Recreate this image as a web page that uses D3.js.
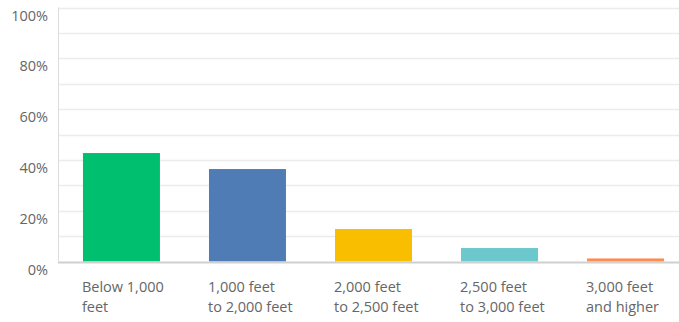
<!DOCTYPE html>
<html>
<head>
<meta charset="utf-8">
<script src="https://cdn.jsdelivr.net/npm/d3@7"></script>
<style>
  html, body { margin: 0; padding: 0; background: #fff; }
  svg { display: block; }
  text { font-family: "Open Sans", "Noto Sans", sans-serif; fill: #666666; }
</style>
</head>
<body>
<svg id="chart" width="679" height="322"></svg>
<script>
// Answer categories (each label split over two lines)
const categories = [
  ["Below 1,000", "feet"],
  ["1,000 feet", "to 2,000 feet"],
  ["2,000 feet", "to 2,500 feet"],
  ["2,500 feet", "to 3,000 feet"],
  ["3,000 feet", "and higher"]
];
// Share of responses (%)
const values = [42.7, 36.4, 12.8, 5.3, 1.2];
const colors = ["#00bf6f", "#507cb6", "#f9be00", "#6bc8cd", "#ff8b4f"];
const yTicks = [0, 20, 40, 60, 80, 100];
const gridTicks = [0, 10, 20, 30, 40, 50, 60, 70, 80, 90, 100];

const svg = d3.select("#chart");
const plotLeft = 58, plotTop = 7.5, plotBottom = 261.5;

const x = d3.scaleBand()
  .domain(d3.range(categories.length))
  .range([plotLeft, 689])
  .paddingInner(0.389)
  .paddingOuter(0.198);

const y = d3.scaleLinear().domain([0, 100]).range([plotBottom, plotTop]);

// Horizontal gridlines
svg.append("g")
  .selectAll("line")
  .data(gridTicks.filter(d => d > 0))
  .join("line")
  .attr("x1", plotLeft).attr("x2", 679)
  .attr("y1", d => Math.round(y(d)) + 0.5)
  .attr("y2", d => Math.round(y(d)) + 0.5)
  .attr("stroke", "#ececec")
  .attr("stroke-width", 1.5);

// Vertical axis line
svg.append("line")
  .attr("x1", plotLeft + 0.5).attr("x2", plotLeft + 0.5)
  .attr("y1", plotTop).attr("y2", plotBottom)
  .attr("stroke", "#dcdcdc")
  .attr("stroke-width", 1);

// Bars
svg.append("g")
  .selectAll("rect")
  .data(values)
  .join("rect")
  .attr("x", (d, i) => x(i))
  .attr("width", x.bandwidth())
  .attr("y", d => y(d))
  .attr("height", d => plotBottom - y(d))
  .attr("fill", (d, i) => colors[i]);

// Baseline
svg.append("line")
  .attr("x1", plotLeft).attr("x2", 679)
  .attr("y1", plotBottom + 1).attr("y2", plotBottom + 1)
  .attr("stroke", "#d0d0d0")
  .attr("stroke-width", 2);

// Y tick labels
svg.append("g")
  .selectAll("text")
  .data(yTicks)
  .join("text")
  .attr("x", 48)
  .attr("y", d => y(d) + 8)
  .attr("dy", "0.35em")
  .attr("text-anchor", "end")
  .attr("font-size", 14.5)
  .text(d => d + "%");

// Category labels
const lab = svg.append("g")
  .selectAll("text")
  .data(categories)
  .join("text")
  .attr("x", (d, i) => x(i) - 1)
  .attr("y", 287)
  .attr("font-size", 14.5);
lab.selectAll("tspan")
  .data(d => d)
  .join("tspan")
  .attr("x", function () { return this.parentNode.getAttribute("x"); })
  .attr("dy", (d, i) => i === 0 ? "0.35em" : 20)
  .text(d => d);
</script>
</body>
</html>
